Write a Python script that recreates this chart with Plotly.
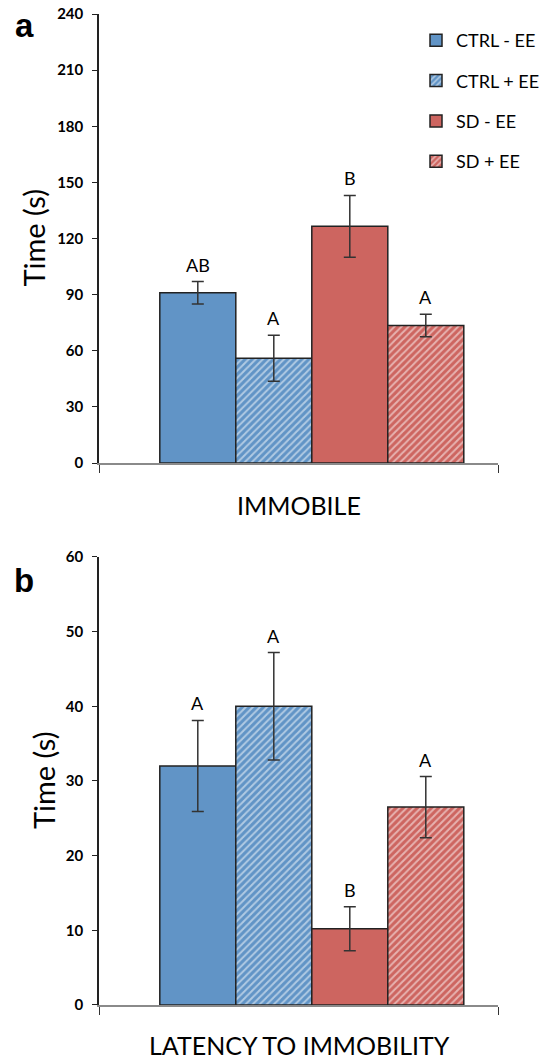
import plotly.graph_objects as go

groups = ["CTRL - EE", "CTRL + EE", "SD - EE", "SD + EE"]
colors = ["#6194c6", "#6194c6", "#cd6560", "#cd6560"]
hatched = [False, True, False, True]

immobile = [91, 56, 126.5, 73.5]
immobile_err = [6, 12.3, 16.5, 6]
immobile_letters = ["AB", "A", "B", "A"]

latency = [32, 40, 10.2, 26.5]
latency_err = [6.1, 7.2, 2.95, 4.1]
latency_letters = ["A", "A", "B", "A"]

xpos = [0, 1, 2, 3]
XR = [-1.30, 3.95]

FONT = "Lato"
PW = 399.0  # plot width in px

fig = go.Figure()

for i, g in enumerate(groups):
    pat = dict(shape="/", fgcolor="white", bgcolor=colors[i], size=5, solidity=0.4) if hatched[i] else dict(shape="")
    for (vals, errs, xa, ya, show) in [(immobile, immobile_err, "x", "y", True),
                                        (latency, latency_err, "x2", "y2", False)]:
        fig.add_trace(go.Bar(
            x=[xpos[i]], y=[vals[i]], width=1, name=g, legendgroup=g, showlegend=show,
            marker=dict(color=colors[i], line=dict(color="#222222", width=1.5), pattern=pat),
            error_y=dict(type="data", array=[errs[i]], color="#333333", thickness=1.5, width=6),
            xaxis=xa, yaxis=ya,
        ))

annotations = []
for i in range(4):
    annotations.append(dict(x=xpos[i], y=immobile[i] + immobile_err[i], xref="x", yref="y",
                            text=immobile_letters[i], showarrow=False, yshift=17,
                            font=dict(size=18, color="black", family=FONT)))
    annotations.append(dict(x=xpos[i], y=latency[i] + latency_err[i], xref="x2", yref="y2",
                            text=latency_letters[i], showarrow=False, yshift=17,
                            font=dict(size=18, color="black", family=FONT)))

annotations += [
    dict(x=-75 / PW, y=1.0, xref="paper", yref="paper", text="<b>a</b>", showarrow=False,
         xanchor="center", yanchor="middle", yshift=-11, font=dict(size=33, color="black", family="Liberation Sans")),
    dict(x=-75 / PW, y=0.4521, xref="paper", yref="paper", text="<b>b</b>", showarrow=False,
         xanchor="center", yanchor="middle", yshift=-24, font=dict(size=33, color="black", family="Liberation Sans")),
    dict(x=(299 - 99) / PW, y=0.5469, xref="paper", yref="paper", text="IMMOBILE", showarrow=False,
         xanchor="center", yanchor="middle", yshift=-42, font=dict(size=25, color="black", family=FONT)),
    dict(x=(299 - 99) / PW, y=0.0, xref="paper", yref="paper", text="LATENCY TO IMMOBILITY", showarrow=False,
         xanchor="center", yanchor="middle", yshift=-40, font=dict(size=25, color="black", family=FONT)),
    dict(x=(34 - 99) / PW, y=(0.5469 + 1.0) / 2, xref="paper", yref="paper", text="Time (s)", showarrow=False,
         textangle=-90, xanchor="center", yanchor="middle", font=dict(size=29, color="black", family=FONT)),
    dict(x=(44 - 99) / PW, y=0.4521 / 2, xref="paper", yref="paper", text="Time (s)", showarrow=False,
         textangle=-90, xanchor="center", yanchor="middle", font=dict(size=29, color="black", family=FONT)),
]

xaxis_common = dict(range=XR, showline=True, linecolor="#8a8a8a", linewidth=1.5,
                    tickvals=XR, ticktext=["", ""], ticks="outside", ticklen=8, tickcolor="#333333",
                    showgrid=False, zeroline=False, fixedrange=True)
yaxis_common = dict(showline=True, linecolor="#222222", linewidth=1.5, ticks="outside", ticklen=5,
                    tickcolor="#222222", showgrid=False, zeroline=False, ticklabelstandoff=6,
                    tickfont=dict(size=15, color="black", family=FONT, weight="bold"))

fig.update_layout(
    width=546, height=1061,
    margin=dict(l=99, r=48, t=14, b=56, autoexpand=False),
    plot_bgcolor="white", paper_bgcolor="white",
    barmode="overlay",
    xaxis=dict(domain=[0, 1], anchor="y", **xaxis_common),
    xaxis2=dict(domain=[0, 1], anchor="y2", **xaxis_common),
    yaxis=dict(domain=[0.5469, 1.0], anchor="x", range=[0, 240], tickvals=list(range(0, 241, 30)), **yaxis_common),
    yaxis2=dict(domain=[0.0, 0.4521], anchor="x2", range=[0, 60], tickvals=list(range(0, 61, 10)), **yaxis_common),
    legend=dict(x=(416 - 99) / PW, y=0.992, xanchor="left", yanchor="top", bgcolor="rgba(0,0,0,0)",
                font=dict(size=18, color="black", family=FONT),
                traceorder="grouped", tracegroupgap=14, itemwidth=30),
    annotations=annotations,
    showlegend=True,
)

fig.write_html("out.html")
